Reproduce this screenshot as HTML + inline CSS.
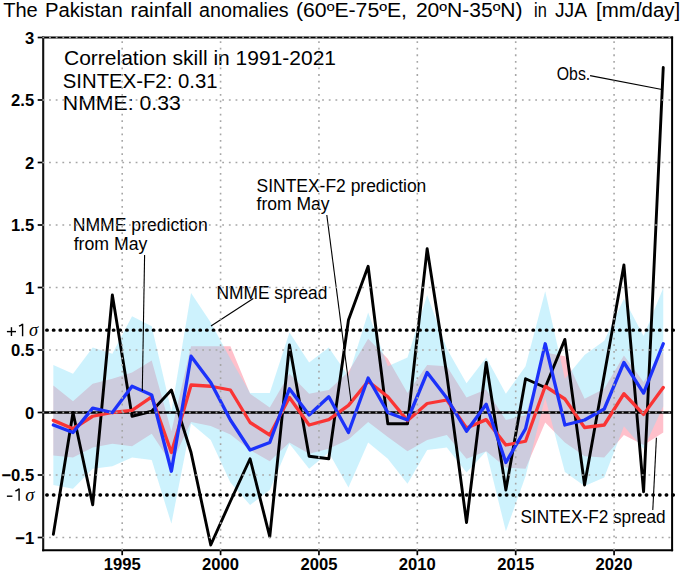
<!DOCTYPE html><html><head><meta charset="utf-8"><style>html,body{margin:0;padding:0;background:#fff;}svg{display:block;}</style></head><body><svg width="685" height="571" viewBox="0 0 685 571">
<rect width="685" height="571" fill="#fff"/>
<polygon points="53.34,385.38 73.01,401.25 92.69,383.75 112.36,378.75 132.04,372.50 151.71,360.62 171.39,431.25 191.06,346.25 210.74,346.25 230.41,346.25 250.09,393.75 269.76,407.50 289.44,373.75 309.11,393.75 328.79,390.00 348.46,371.75 368.14,338.75 387.81,358.75 407.49,393.00 427.16,365.00 446.84,366.25 466.51,397.50 486.19,389.38 505.86,420.00 525.54,415.00 545.21,352.50 564.89,356.25 584.56,398.75 604.24,388.75 623.91,355.38 643.59,382.00 663.26,351.25 663.26,432.50 643.59,445.00 623.91,435.00 604.24,457.50 584.56,456.25 564.89,442.50 545.21,422.50 525.54,468.75 505.86,467.50 486.19,451.25 466.51,458.75 446.84,435.00 427.16,440.00 407.49,451.25 387.81,437.00 368.14,422.00 348.46,439.38 328.79,448.75 309.11,453.75 289.44,442.50 269.76,461.25 250.09,450.00 230.41,434.50 210.74,425.88 191.06,421.88 171.39,463.75 151.71,433.75 132.04,446.25 112.36,443.75 92.69,447.50 73.01,457.50 53.34,455.62" fill="#ffc0cb"/>
<polygon points="53.34,365.00 73.01,373.75 92.69,347.50 112.36,353.75 132.04,316.25 151.71,326.25 171.39,411.25 191.06,293.00 210.74,322.50 230.41,358.75 250.09,393.12 269.76,393.12 289.44,332.50 309.11,362.50 328.79,347.50 348.46,376.25 368.14,312.50 387.81,366.25 407.49,357.50 427.16,295.00 446.84,348.75 466.51,383.25 486.19,357.50 505.86,393.75 525.54,366.25 545.21,291.25 564.89,378.75 584.56,355.00 604.24,340.75 623.91,298.75 643.59,336.00 663.26,287.88 663.26,406.25 643.59,448.75 623.91,426.25 604.24,477.50 584.56,486.00 564.89,472.00 545.21,397.50 525.54,476.25 505.86,531.25 486.19,451.25 466.51,472.50 446.84,447.50 427.16,450.00 407.49,483.75 387.81,458.75 368.14,442.50 348.46,487.50 328.79,452.50 309.11,468.75 289.44,443.75 269.76,490.00 250.09,505.00 230.41,482.50 210.74,440.00 191.06,423.50 171.39,523.75 151.71,460.00 132.04,457.50 112.36,466.25 92.69,468.75 73.01,488.75 53.34,485.00" fill="rgb(130,222,250)" fill-opacity="0.4"/>
<line x1="43.2" y1="412.5" x2="672.1" y2="412.5" stroke="#000" stroke-width="2.4"/>
<line x1="46.7" y1="330.20" x2="673.6" y2="330.20" stroke="#000" stroke-width="3.3" stroke-dasharray="0.6 6.061" stroke-linecap="round"/>
<line x1="46.7" y1="495.00" x2="673.6" y2="495.00" stroke="#000" stroke-width="3.3" stroke-dasharray="0.6 6.061" stroke-linecap="round"/>
<polyline points="53.34,534.38 73.01,412.50 92.69,504.75 112.36,295.00 132.04,416.25 151.71,411.25 171.39,390.00 191.06,452.50 210.74,545.00 230.41,501.25 250.09,458.75 269.76,536.75 289.44,345.00 309.11,456.25 328.79,458.75 348.46,320.00 368.14,266.25 387.81,423.75 407.49,423.75 427.16,248.75 446.84,375.00 466.51,522.50 486.19,362.50 505.86,490.00 525.54,378.75 545.21,387.50 564.89,339.38 584.56,485.00 604.24,375.00 623.91,265.00 643.59,491.75 663.26,67.50" fill="none" stroke="#000" stroke-width="2.9" stroke-linejoin="round" stroke-linecap="round"/>
<polyline points="53.34,420.38 73.01,428.75 92.69,416.25 112.36,412.50 132.04,410.38 151.71,396.88 171.39,452.50 191.06,385.00 210.74,386.25 230.41,390.00 250.09,422.50 269.76,435.00 289.44,397.50 309.11,425.00 328.79,419.62 348.46,405.38 368.14,381.25 387.81,396.75 407.49,420.62 427.16,403.50 446.84,400.00 466.51,428.00 486.19,419.62 505.86,445.00 525.54,441.25 545.21,386.25 564.89,399.00 584.56,427.50 604.24,425.00 623.91,393.75 643.59,414.38 663.26,387.50" fill="none" stroke="#fa3434" stroke-width="3.3" stroke-linejoin="round" stroke-linecap="round"/>
<polyline points="53.34,425.00 73.01,432.50 92.69,408.12 112.36,412.50 132.04,386.25 151.71,395.00 171.39,471.25 191.06,356.25 210.74,382.50 230.41,420.00 250.09,450.00 269.76,442.50 289.44,388.75 309.11,415.00 328.79,396.75 348.46,432.50 368.14,378.00 387.81,412.50 407.49,420.00 427.16,372.50 446.84,398.00 466.51,431.25 486.19,404.25 505.86,462.50 525.54,428.75 545.21,343.75 564.89,425.00 584.56,420.00 604.24,409.00 623.91,362.50 643.59,393.12 663.26,343.75" fill="none" stroke="#1c32fa" stroke-width="3.3" stroke-linejoin="round" stroke-linecap="round"/>
<line x1="43.2" y1="36.4" x2="43.2" y2="551.2" stroke="#111" stroke-width="2.1"/>
<line x1="42.2" y1="550.2" x2="673.1" y2="550.2" stroke="#000" stroke-width="2.0"/>
<line x1="672.1" y1="36.4" x2="672.1" y2="551.2" stroke="#000" stroke-width="2.0"/>
<line x1="42.2" y1="37.4" x2="673.1" y2="37.4" stroke="#000" stroke-width="2.0"/>
<line x1="37.7" y1="537.50" x2="43.2" y2="537.50" stroke="#000" stroke-width="1.7"/>
<line x1="37.7" y1="475.00" x2="43.2" y2="475.00" stroke="#000" stroke-width="1.7"/>
<line x1="37.7" y1="412.50" x2="43.2" y2="412.50" stroke="#000" stroke-width="1.7"/>
<line x1="37.7" y1="350.00" x2="43.2" y2="350.00" stroke="#000" stroke-width="1.7"/>
<line x1="37.7" y1="287.50" x2="43.2" y2="287.50" stroke="#000" stroke-width="1.7"/>
<line x1="37.7" y1="225.00" x2="43.2" y2="225.00" stroke="#000" stroke-width="1.7"/>
<line x1="37.7" y1="162.50" x2="43.2" y2="162.50" stroke="#000" stroke-width="1.7"/>
<line x1="37.7" y1="100.00" x2="43.2" y2="100.00" stroke="#000" stroke-width="1.7"/>
<line x1="37.7" y1="37.50" x2="43.2" y2="37.50" stroke="#000" stroke-width="1.7"/>
<line x1="122.20" y1="550.2" x2="122.20" y2="555.2" stroke="#000" stroke-width="1.7"/>
<line x1="220.58" y1="550.2" x2="220.58" y2="555.2" stroke="#000" stroke-width="1.7"/>
<line x1="318.95" y1="550.2" x2="318.95" y2="555.2" stroke="#000" stroke-width="1.7"/>
<line x1="417.32" y1="550.2" x2="417.32" y2="555.2" stroke="#000" stroke-width="1.7"/>
<line x1="515.70" y1="550.2" x2="515.70" y2="555.2" stroke="#000" stroke-width="1.7"/>
<line x1="614.08" y1="550.2" x2="614.08" y2="555.2" stroke="#000" stroke-width="1.7"/>
<text x="34.2" y="543.70" font-family="Liberation Sans" font-weight="bold" font-size="16.6" text-anchor="end">−1</text>
<text x="34.2" y="481.20" font-family="Liberation Sans" font-weight="bold" font-size="16.6" text-anchor="end">−0.5</text>
<text x="34.2" y="418.70" font-family="Liberation Sans" font-weight="bold" font-size="16.6" text-anchor="end">0</text>
<text x="34.2" y="356.20" font-family="Liberation Sans" font-weight="bold" font-size="16.6" text-anchor="end">0.5</text>
<text x="34.2" y="293.70" font-family="Liberation Sans" font-weight="bold" font-size="16.6" text-anchor="end">1</text>
<text x="34.2" y="231.20" font-family="Liberation Sans" font-weight="bold" font-size="16.6" text-anchor="end">1.5</text>
<text x="34.2" y="168.70" font-family="Liberation Sans" font-weight="bold" font-size="16.6" text-anchor="end">2</text>
<text x="34.2" y="106.20" font-family="Liberation Sans" font-weight="bold" font-size="16.6" text-anchor="end">2.5</text>
<text x="34.2" y="43.70" font-family="Liberation Sans" font-weight="bold" font-size="16.6" text-anchor="end">3</text>
<text x="122.20" y="569.7" font-family="Liberation Sans" font-weight="bold" font-size="16.6" text-anchor="middle">1995</text>
<text x="220.58" y="569.7" font-family="Liberation Sans" font-weight="bold" font-size="16.6" text-anchor="middle">2000</text>
<text x="318.95" y="569.7" font-family="Liberation Sans" font-weight="bold" font-size="16.6" text-anchor="middle">2005</text>
<text x="417.32" y="569.7" font-family="Liberation Sans" font-weight="bold" font-size="16.6" text-anchor="middle">2010</text>
<text x="515.70" y="569.7" font-family="Liberation Sans" font-weight="bold" font-size="16.6" text-anchor="middle">2015</text>
<text x="614.08" y="569.7" font-family="Liberation Sans" font-weight="bold" font-size="16.6" text-anchor="middle">2020</text>
<g stroke="#000" stroke-width="1.1">
<line x1="144.6" y1="255" x2="142.3" y2="391"/>
<line x1="253.3" y1="298.5" x2="211" y2="326"/>
<line x1="326.8" y1="215" x2="351" y2="401"/>
<line x1="590.1" y1="75.6" x2="662" y2="89.5"/>
<line x1="656.4" y1="437.7" x2="652.8" y2="510"/>
</g>
<text x="3.2" y="16.6" font-family="Liberation Sans" font-size="19.5" textLength="34.6" lengthAdjust="spacingAndGlyphs">The</text>
<text x="44.9" y="16.6" font-family="Liberation Sans" font-size="19.5" textLength="77.79" lengthAdjust="spacingAndGlyphs">Pakistan</text>
<text x="130.5" y="16.6" font-family="Liberation Sans" font-size="19.5" textLength="61.6" lengthAdjust="spacingAndGlyphs">rainfall</text>
<text x="199.1" y="16.6" font-family="Liberation Sans" font-size="19.5" textLength="89.59" lengthAdjust="spacingAndGlyphs">anomalies</text>
<text x="296.0" y="16.6" font-family="Liberation Sans" font-size="19.5" textLength="111.0" lengthAdjust="spacingAndGlyphs">(60ºE-75ºE,</text>
<text x="415.9" y="16.6" font-family="Liberation Sans" font-size="19.5" textLength="106.71" lengthAdjust="spacingAndGlyphs">20ºN-35ºN)</text>
<text x="534.0" y="16.6" font-family="Liberation Sans" font-size="19.5" textLength="12.75" lengthAdjust="spacingAndGlyphs">in</text>
<text x="555.0" y="16.6" font-family="Liberation Sans" font-size="19.5" textLength="32.03" lengthAdjust="spacingAndGlyphs">JJA</text>
<text x="596.1" y="16.6" font-family="Liberation Sans" font-size="19.5" textLength="84.21" lengthAdjust="spacingAndGlyphs">[mm/day]</text>
<text x="64.0" y="64.9" font-family="Liberation Sans" font-size="20.8" textLength="272.04" lengthAdjust="spacingAndGlyphs">Correlation skill in 1991-2021</text>
<text x="62.8" y="87.8" font-family="Liberation Sans" font-size="20.8" textLength="154.69" lengthAdjust="spacingAndGlyphs">SINTEX-F2: 0.31</text>
<text x="62.8" y="110.4" font-family="Liberation Sans" font-size="20.8" textLength="118.1" lengthAdjust="spacingAndGlyphs">NMME: 0.33</text>
<text x="72.7" y="230.5" font-family="Liberation Sans" font-size="17.5" textLength="135.03" lengthAdjust="spacingAndGlyphs">NMME prediction</text>
<text x="73.7" y="250.2" font-family="Liberation Sans" font-size="17.5" textLength="73.8" lengthAdjust="spacingAndGlyphs">from May</text>
<text x="216.4" y="299.0" font-family="Liberation Sans" font-size="17.5" textLength="111.07" lengthAdjust="spacingAndGlyphs">NMME spread</text>
<text x="256.6" y="191.9" font-family="Liberation Sans" font-size="17.5" textLength="169.7" lengthAdjust="spacingAndGlyphs">SINTEX-F2 prediction</text>
<text x="256.6" y="210.3" font-family="Liberation Sans" font-size="17.5" textLength="73.0" lengthAdjust="spacingAndGlyphs">from May</text>
<text x="556.8" y="80.0" font-family="Liberation Sans" font-size="17.5" textLength="33.44" lengthAdjust="spacingAndGlyphs">Obs.</text>
<text x="520.4" y="522.8" font-family="Liberation Sans" font-size="17.5" textLength="145.17" lengthAdjust="spacingAndGlyphs">SINTEX-F2 spread</text>
<g stroke="#000" stroke-width="1.4" fill="none">
<line x1="6.9" y1="331.6" x2="16" y2="331.6"/><line x1="11.45" y1="327.2" x2="11.45" y2="336"/>
<path d="M22.6 323.8 V336.2 M22.6 323.9 Q21 325.4 19 326.2"/>
<line x1="6.9" y1="496.2" x2="12.4" y2="496.2"/>
<path d="M19.1 488.6 V500.8 M19.1 488.7 Q17.5 490.2 15.4 491"/>
</g>
<text x="28.9" y="336.2" font-family="Liberation Serif" font-style="italic" font-size="18.5">σ</text>
<text x="25.2" y="501.2" font-family="Liberation Serif" font-style="italic" font-size="18.5">σ</text>
<line x1="42.4" y1="537.50" x2="674" y2="537.50" stroke="#a6a6a6" stroke-width="1.6" stroke-dasharray="1.8 4.86"/>
<line x1="42.4" y1="475.00" x2="674" y2="475.00" stroke="#a6a6a6" stroke-width="1.6" stroke-dasharray="1.8 4.86"/>
<line x1="42.4" y1="412.50" x2="674" y2="412.50" stroke="#a6a6a6" stroke-width="1.6" stroke-dasharray="1.8 4.86"/>
<line x1="42.4" y1="350.00" x2="674" y2="350.00" stroke="#a6a6a6" stroke-width="1.6" stroke-dasharray="1.8 4.86"/>
<line x1="42.4" y1="287.50" x2="674" y2="287.50" stroke="#a6a6a6" stroke-width="1.6" stroke-dasharray="1.8 4.86"/>
<line x1="42.4" y1="225.00" x2="674" y2="225.00" stroke="#a6a6a6" stroke-width="1.6" stroke-dasharray="1.8 4.86"/>
<line x1="42.4" y1="162.50" x2="674" y2="162.50" stroke="#a6a6a6" stroke-width="1.6" stroke-dasharray="1.8 4.86"/>
<line x1="42.4" y1="100.00" x2="674" y2="100.00" stroke="#a6a6a6" stroke-width="1.6" stroke-dasharray="1.8 4.86"/>
<line x1="42.4" y1="37.50" x2="674" y2="37.50" stroke="#a6a6a6" stroke-width="1.6" stroke-dasharray="1.8 4.86"/>
<line x1="122.20" y1="550.4" x2="122.20" y2="37.4" stroke="#a6a6a6" stroke-width="1.6" stroke-dasharray="1.8 4.79"/>
<line x1="220.58" y1="550.4" x2="220.58" y2="37.4" stroke="#a6a6a6" stroke-width="1.6" stroke-dasharray="1.8 4.79"/>
<line x1="318.95" y1="550.4" x2="318.95" y2="37.4" stroke="#a6a6a6" stroke-width="1.6" stroke-dasharray="1.8 4.79"/>
<line x1="417.32" y1="550.4" x2="417.32" y2="37.4" stroke="#a6a6a6" stroke-width="1.6" stroke-dasharray="1.8 4.79"/>
<line x1="515.70" y1="550.4" x2="515.70" y2="37.4" stroke="#a6a6a6" stroke-width="1.6" stroke-dasharray="1.8 4.79"/>
<line x1="614.08" y1="550.4" x2="614.08" y2="37.4" stroke="#a6a6a6" stroke-width="1.6" stroke-dasharray="1.8 4.79"/>
</svg></body></html>
